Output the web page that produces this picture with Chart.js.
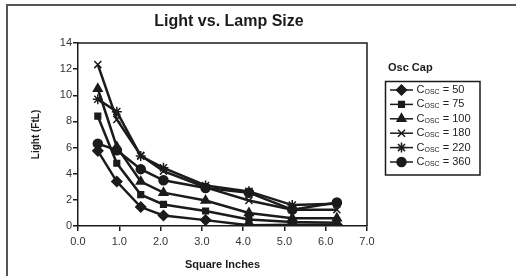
<!DOCTYPE html>
<html>
<head>
<meta charset="utf-8">
<script src="https://cdn.jsdelivr.net/npm/chart.js@4/dist/chart.umd.min.js"></script>
<style>
  html, body { margin: 0; padding: 0; background: #fff; }
  #wrap { position: relative; width: 516px; height: 276px; overflow: hidden; }
  #frame { position: absolute; left: 6px; top: 4px; right: -10px; bottom: -10px;
    border-top: 2px solid #555; border-left: 2px solid #555; pointer-events: none; }
  canvas { position: absolute; left: 0; top: 0; }
</style>
</head>
<body>
<div id="wrap">
  <canvas id="chart" width="516" height="276"></canvas>
  <div id="frame"></div>
</div>
<script>
// chart data
const sizes = [0.48, 0.94, 1.52, 2.07, 3.09, 4.14, 5.19, 6.27];
const capValues = [50, 75, 100, 180, 220, 360];
const light50 = [5.75, 3.4, 1.45, 0.8, 0.45, 0.05, 0.1, 0.1];
const light75 = [8.4, 4.8, 2.4, 1.65, 1.15, 0.5, 0.3, 0.25];
const light100 = [10.5, 6.05, 3.4, 2.55, 1.95, 1.0, 0.6, 0.6];
const light180 = [12.35, 8.15, 5.4, 4.2, 2.95, 1.95, 1.25, 1.25];
const light220 = [9.7, 8.75, 5.35, 4.45, 3.1, 2.65, 1.6, 1.7];
const light360 = [6.3, 5.8, 4.35, 3.5, 2.9, 2.55, 1.25, 1.8];
const pointStyles = ['rectRot', 'rect', 'triangle', 'crossRot', 'star', 'circle'];
const pointSizes = [5, 4, 5, 5, 5, 4.5];
const xTicks = [0, 1, 2, 3, 4, 5, 6, 7];
const yTicks = [0, 2, 4, 6, 8, 10, 12, 14];

const series = [light50, light75, light100, light180, light220, light360];
const ink = '#1b1b1b';
const fontFamily = "'Liberation Sans', Arial, Helvetica, sans-serif";

const datasets = series.map((values, i) => ({
  label: 'C' + 'OSC' + ' = ' + capValues[i],
  data: values.map((v, j) => ({ x: sizes[j], y: v })),
  borderColor: ink,
  backgroundColor: ink,
  borderWidth: 2.5,
  pointStyle: pointStyles[i],
  pointRadius: pointSizes[i],
  pointBorderWidth: 1.5,
  pointBackgroundColor: ink,
  pointBorderColor: ink,
  tension: 0,
}));

// Title, frame of plot area and legend with subscripts
const decorations = {
  id: 'decorations',
  afterDraw(chart) {
    const { ctx, chartArea } = chart;
    ctx.save();
    // plot box top and right edges
    ctx.strokeStyle = ink;
    ctx.lineWidth = 1.5;
    ctx.beginPath();
    ctx.moveTo(chartArea.left, chartArea.top);
    ctx.lineTo(chartArea.right, chartArea.top);
    ctx.lineTo(chartArea.right, chartArea.bottom);
    ctx.stroke();

    // chart title
    ctx.fillStyle = ink;
    ctx.font = `bold 16px ${fontFamily}`;
    ctx.textAlign = 'center';
    ctx.textBaseline = 'middle';
    ctx.fillText('Light vs. Lamp Size', 229, 22);

    // legend title
    ctx.font = `bold 11px ${fontFamily}`;
    ctx.textAlign = 'left';
    ctx.fillText('Osc Cap', 388, 68);

    // legend box
    ctx.lineWidth = 1.5;
    ctx.strokeRect(385.5, 81.5, 94.5, 93.5);

    chart.data.datasets.forEach((ds, i) => {
      const y = 90 + i * 14.4;
      ctx.strokeStyle = ink;
      ctx.fillStyle = ink;
      ctx.lineWidth = 1.5;
      ctx.beginPath();
      ctx.moveTo(390, y);
      ctx.lineTo(413, y);
      ctx.stroke();
      Chart.helpers.drawPoint(ctx, {
        pointStyle: ds.pointStyle,
        radius: ds.pointRadius,
        rotation: 0,
        borderWidth: 1.2,
      }, 401.5, y);

      ctx.fillStyle = '#222';
      ctx.textBaseline = 'middle';
      ctx.font = `11px ${fontFamily}`;
      let x = 416.5;
      ctx.fillText('C', x, y);
      x += ctx.measureText('C').width;
      ctx.font = `7px ${fontFamily}`;
      ctx.fillText('OSC', x, y + 2);
      x += ctx.measureText('OSC').width;
      ctx.font = `11px ${fontFamily}`;
      ctx.fillText(' = ' + capValues[i], x, y);
    });
    ctx.restore();
  },
};

new Chart(document.getElementById('chart'), {
  type: 'line',
  data: { datasets },
  plugins: [decorations],
  options: {
    responsive: false,
    animation: false,
    layout: { padding: { top: 43, right: 149, left: 0, bottom: 0 } },
    plugins: {
      legend: { display: false },
      title: { display: false },
      tooltip: { enabled: false },
    },
    scales: {
      x: {
        type: 'linear',
        min: 0,
        max: 7,
        afterFit: (scale) => { scale.height = 50; },
        afterBuildTicks: (scale) => { scale.ticks = xTicks.map(v => ({ value: v })); },
        grid: { drawOnChartArea: false, drawTicks: true, tickLength: 5, color: ink, lineWidth: 1.5 },
        border: { color: ink, width: 1.5 },
        ticks: {
          padding: 4,
          color: '#333',
          font: { family: fontFamily, size: 11 },
          callback: (v) => Number(v).toFixed(1),
        },
        title: {
          display: true,
          text: 'Square Inches',
          color: ink,
          font: { family: fontFamily, size: 11, weight: 'bold' },
          padding: { top: 0, bottom: 4 },
        },
      },
      y: {
        min: 0,
        max: 14,
        afterFit: (scale) => { scale.width = 78; },
        afterBuildTicks: (scale) => { scale.ticks = yTicks.map(v => ({ value: v })); },
        grid: { drawOnChartArea: false, drawTicks: true, tickLength: 5, color: ink, lineWidth: 1.5 },
        border: { color: ink, width: 1.5 },
        ticks: {
          padding: 1,
          color: '#333',
          font: { family: fontFamily, size: 11 },
        },
        title: {
          display: true,
          text: 'Light (FtL)',
          color: ink,
          font: { family: fontFamily, size: 10, weight: 'bold' },
          padding: { top: 30, bottom: 0 },
        },
      },
    },
  },
});
</script>
</body>
</html>
